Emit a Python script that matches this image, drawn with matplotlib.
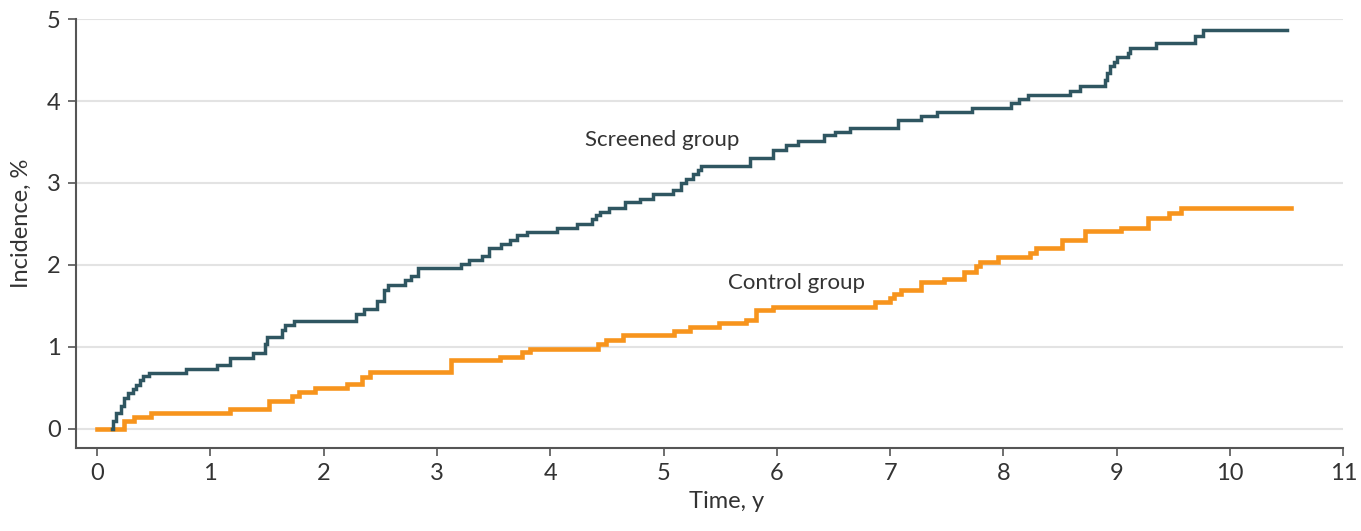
import matplotlib.pyplot as plt

# cumulative incidence (%), step changes
screened_t = [0.13, 0.144, 0.168, 0.21, 0.24, 0.277, 0.315, 0.345, 0.38, 0.41,
              0.455, 0.787, 1.058, 1.176, 1.376, 1.48, 1.50, 1.633, 1.66, 1.736,
              2.29, 2.36, 2.47, 2.53, 2.567, 2.72, 2.77, 2.83, 3.21, 3.28,
              3.395, 3.46, 3.563, 3.646, 3.71, 3.793, 4.06, 4.235, 4.365, 4.40,
              4.44, 4.52, 4.66, 4.79, 4.91, 5.08, 5.155, 5.20, 5.26, 5.30,
              5.33, 5.765, 5.965, 6.08, 6.19, 6.42, 6.51, 6.65, 7.07, 7.27,
              7.41, 7.72, 8.07, 8.14, 8.215, 8.59, 8.68, 8.90, 8.915, 8.94,
              8.975, 9.0, 9.10, 9.12, 9.35, 9.69, 9.76, 10.505]
screened_inc = [0.0, 0.10, 0.19, 0.28, 0.375, 0.435, 0.48, 0.54, 0.59, 0.64,
                0.684, 0.73, 0.777, 0.87, 0.93, 1.03, 1.125, 1.20, 1.27, 1.32,
                1.40, 1.46, 1.56, 1.70, 1.76, 1.82, 1.87, 1.965, 2.01, 2.06,
                2.11, 2.21, 2.26, 2.31, 2.36, 2.40, 2.45, 2.50, 2.56, 2.61,
                2.65, 2.70, 2.77, 2.81, 2.87, 2.92, 3.00, 3.05, 3.11, 3.16,
                3.21, 3.31, 3.40, 3.46, 3.51, 3.58, 3.62, 3.67, 3.765, 3.82,
                3.87, 3.92, 3.975, 4.03, 4.07, 4.125, 4.18, 4.26, 4.34, 4.43,
                4.48, 4.54, 4.59, 4.645, 4.71, 4.79, 4.87, 4.87]

control_t = [0.0, 0.235, 0.33, 0.475, 1.17, 1.52, 1.725, 1.78, 1.92, 2.21,
             2.34, 2.41, 3.12, 3.56, 3.755, 3.82, 4.42, 4.49, 4.64, 5.09,
             5.23, 5.49, 5.73, 5.82, 5.965, 6.87, 7.0, 7.03, 7.10, 7.27,
             7.48, 7.65, 7.76, 7.79, 7.95, 8.235, 8.29, 8.515, 8.72, 9.04,
             9.28, 9.465, 9.57, 10.54]
control_inc = [0.0, 0.10, 0.15, 0.19, 0.245, 0.345, 0.40, 0.45, 0.495, 0.55,
               0.635, 0.69, 0.84, 0.88, 0.94, 0.97, 1.04, 1.09, 1.14, 1.19,
               1.245, 1.29, 1.33, 1.45, 1.49, 1.55, 1.60, 1.64, 1.70, 1.79,
               1.83, 1.91, 1.99, 2.03, 2.095, 2.15, 2.205, 2.31, 2.42, 2.45,
               2.57, 2.63, 2.69, 2.69]

x_ticks = list(range(0, 12))
y_ticks = list(range(0, 6))

plt.rcParams['font.family'] = ['Lato', 'DejaVu Sans']

fig = plt.figure(figsize=(13.61, 5.31), dpi=100)
ax = fig.add_axes([0.0558, 0.156, 0.9312, 0.808])

dark = "#2f5661"
orange = "#f7941d"
grey = "#555555"
txt = "#333333"

for y in y_ticks:
    ax.axhline(y, color="#e3e3e3", lw=1.5, zorder=0)

ax.plot(control_t, control_inc, drawstyle="steps-post", color=orange, lw=3.3,
        solid_joinstyle="miter", zorder=2)
ax.plot(screened_t, screened_inc, drawstyle="steps-post", color=dark, lw=2.5,
        solid_joinstyle="miter", zorder=3)

ax.text(4.31, 3.53, "Screened group", fontsize=16, color=txt, va="center", ha="left")
ax.text(5.57, 1.78, "Control group", fontsize=16, color=txt, va="center", ha="left")

ax.set_xlim(-0.186, 11)
ax.set_ylim(-0.236, 5)
ax.set_xticks(x_ticks)
ax.set_yticks(y_ticks)

for s in ["top", "right"]:
    ax.spines[s].set_visible(False)
for s in ["left", "bottom"]:
    ax.spines[s].set_color(grey)
    ax.spines[s].set_linewidth(1.5)
ax.spines["left"].set_bounds(-0.236, 5)

ax.tick_params(axis="both", direction="out", length=6, width=1.2, color=grey,
               labelsize=17, labelcolor=txt, pad=5)

ax.set_xlabel("Time, y", fontsize=17, color=txt, labelpad=10)
ax.set_ylabel("Incidence, %", fontsize=17, color=txt, labelpad=8)
ax.xaxis.set_label_coords(0.513, -0.1)
ax.yaxis.set_label_coords(-0.035, 0.523)

fig.savefig("out.png", dpi=100)
